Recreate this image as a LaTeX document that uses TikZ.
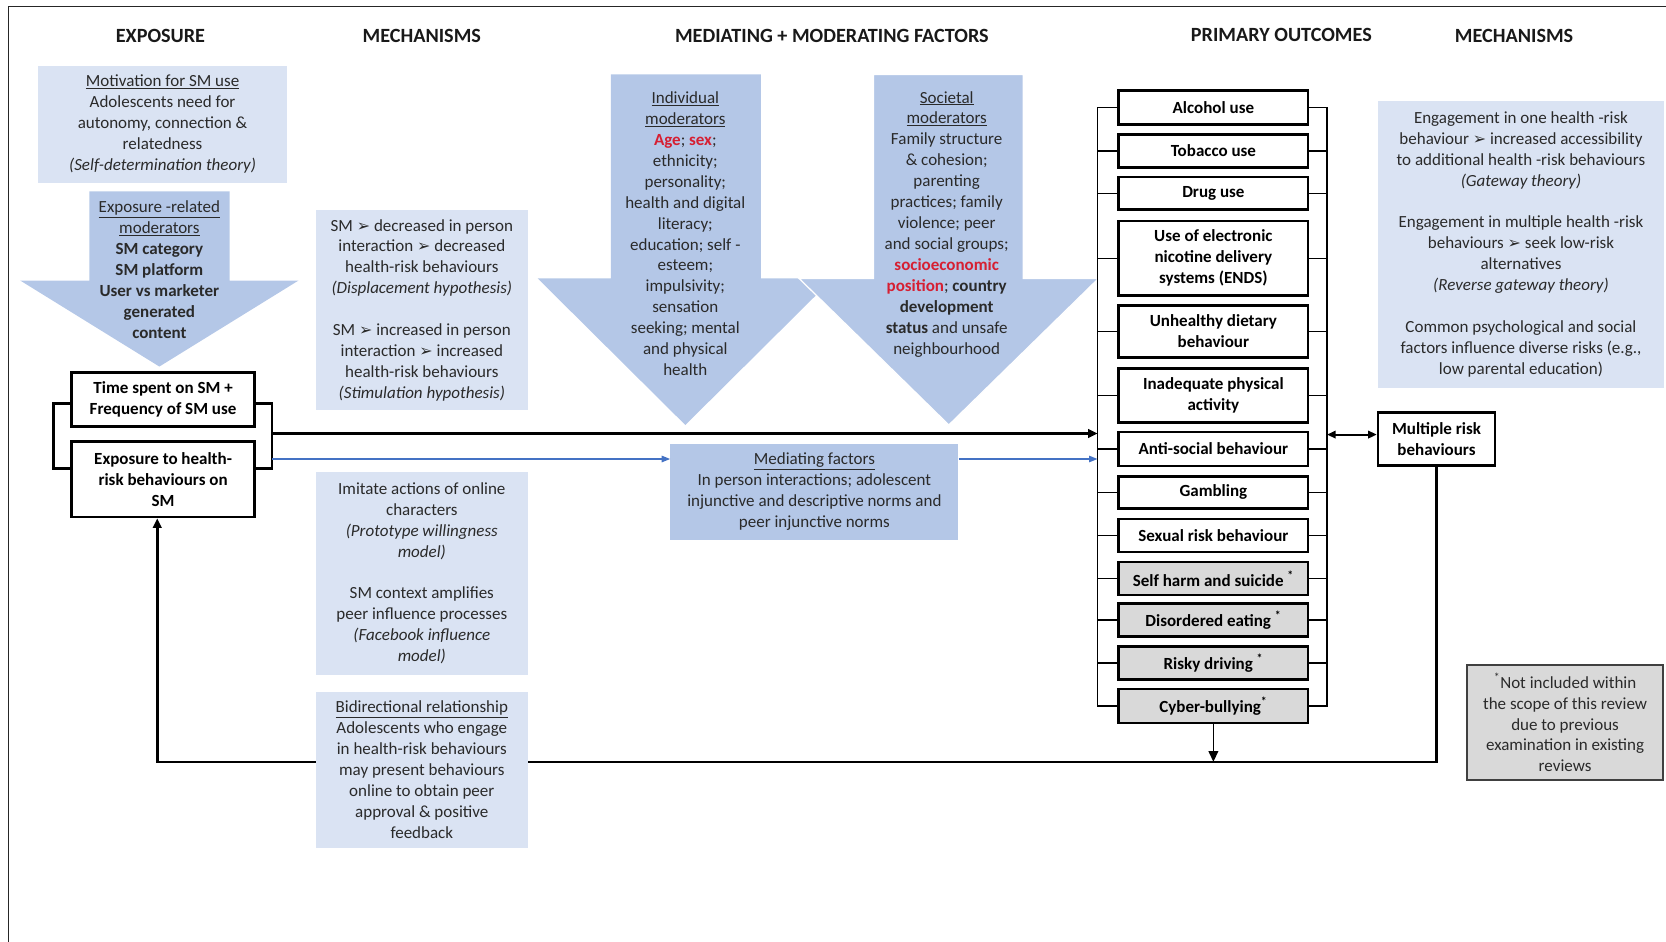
\documentclass[tikz,border=0pt]{standalone}
\usepackage{fontspec}
\setmainfont{Carlito}
\newfontfamily\dejavu{DejaVu Sans}
\usetikzlibrary{arrows.meta}
\definecolor{softfill}{HTML}{DAE3F3}
\definecolor{arrowfill}{HTML}{B4C7E7}
\definecolor{linkblue}{HTML}{4472C4}
\definecolor{redtxt}{RGB}{214,31,50}
\definecolor{txt}{HTML}{2A2A2A}
\definecolor{notegray}{HTML}{D9D9D9}
\newcommand{\myarr}{{\dejavu\fontsize{15}{15}\selectfont ➢}}
\newcommand{\rt}[1]{\textcolor{redtxt}{\textbf{#1}}}
\begin{document}
\begin{tikzpicture}[x=1pt,y=-1pt,
  every node/.style={font=\fontsize{16}{19.7}\selectfont, align=center, inner sep=0pt, text=txt},
  head/.style={font=\fontsize{19}{22}\selectfont\bfseries, text=black!90},
  softbox/.style={fill=softfill, text=txt},
  midbox/.style={fill=arrowfill, text=txt},
  outbox/.style={draw=black, line width=2.6pt, fill=white, text=black,
     font=\fontsize{16}{19.7}\selectfont\bfseries, minimum width=178pt},
  greybox/.style={outbox, fill=notegray},
  notebox/.style={draw=black!75, line width=2pt, fill=notegray, text=txt},
  framel/.style={draw=black!85, line width=1.6pt},
  bracket/.style={draw=black, line width=1.3pt},
  thickl/.style={draw=black, line width=2.6pt},
  karrow/.style={draw=black, line width=2.2pt, -{Triangle[length=9pt,width=8pt]}},
  barrow/.style={draw=linkblue, line width=1.4pt, -{Triangle[length=8pt,width=6pt]}},
  fbline/.style={draw=black, line width=2.4pt},
  dblarrow/.style={draw=black, line width=2pt, {Triangle[length=8pt,width=7pt]}-{Triangle[length=8pt,width=7pt]}}
]
\useasboundingbox (0,0) rectangle (1568,886);
% frame
\coordinate (fTL) at (8,6);
\coordinate (fTR) at (1570,6);
\coordinate (fBL) at (8,890);
\draw[framel] (fTR) -- (fTL) -- (fBL);

% headings
\node[head] (h1) at (151,34) {EXPOSURE};
\node[head] (h2) at (397,34) {MECHANISMS};
\node[head] (h3) at (783,34) {MEDIATING + MODERATING FACTORS};
\node[head] (h4) at (1206,33) {PRIMARY OUTCOMES};
\node[head] (h5) at (1425,34) {MECHANISMS};

% motivation box
\node[softbox, minimum width=234pt, minimum height=110pt] (mot) at (153,117)
 {\underline{Motivation for SM use}\\ Adolescents need for\\ autonomy, connection \&\\ relatedness\\ \textit{(Self-determination theory)}};

% exposure-related moderators arrow
\fill[arrowfill] (84,180) -- (216,180) -- (216,264) -- (281,264) -- (150,345) -- (19,264) -- (84,264) -- cycle;
\node (expmod) at (150,254)
 {\underline{Exposure -related}\\ \underline{moderators}\\ \textbf{SM category}\\ \textbf{SM platform}\\ \textbf{User vs marketer}\\ \textbf{generated}\\ \textbf{content}};

% individual moderators arrow
\fill[arrowfill] (575,70) -- (716,70) -- (716,262) -- (784,262) -- (645,400) -- (506,262) -- (575,262) -- cycle;
\node (indmod) at (645,220)
 {\underline{Individual}\\ \underline{moderators}\\ \rt{Age}; \rt{sex};\\ ethnicity;\\ personality;\\ health and digital\\ literacy;\\ education; self -\\ esteem;\\ impulsivity;\\ sensation\\ seeking; mental\\ and physical\\ health};

% societal moderators arrow
\filldraw[fill=arrowfill, draw=white, line width=1.2pt] (822,70) -- (963,70) -- (963,262) -- (1034,262) -- (893,400) -- (752,262) -- (822,262) -- cycle;
\node (socmod) at (891,211)
 {\underline{Societal}\\ \underline{moderators}\\ Family structure\\ \& cohesion;\\ parenting\\ practices; family\\ violence; peer\\ and social groups;\\ \rt{socioeconomic}\\ \rt{position}; \textbf{country}\\ \textbf{development}\\ \textbf{status} and unsafe\\ neighbourhood};

% mechanisms boxes
\node[softbox, minimum width=200pt, minimum height=188pt] (mech1) at (397,292)
 {SM \myarr\ decreased in person\\ interaction \myarr\ decreased\\ health-risk behaviours\\ \textit{(Displacement hypothesis)}\\[19.7pt]
  SM \myarr\ increased in person\\ interaction \myarr\ increased\\ health-risk behaviours\\ \textit{(Stimulation hypothesis)}};
\node[softbox, minimum width=200pt, minimum height=191pt] (mech2) at (397,539.5)
 {Imitate actions of online\\ characters\\ \textit{(Prototype willingness}\\ \textit{model)}\\[19.7pt]
  SM context amplifies\\ peer influence processes\\ \textit{(Facebook influence}\\ \textit{model)}};

% exposure boxes
\node[outbox, minimum width=172pt, minimum height=51pt] (tb) at (153.5,376)
 {Time spent on SM +\\ Frequency of SM use};
\node[outbox, minimum width=172pt, minimum height=71pt] (eb) at (153.5,451)
 {Exposure to health-\\ risk behaviours on\\ SM};

% exposure bracket
\coordinate (xt) at (50,380);
\coordinate (xb) at (50,441);
\coordinate (xt2) at (256,380);
\coordinate (xb2) at (256,441);
\draw[thickl] (tb.west |- xt) -- (xt) -- (xb) -- (eb.west |- xb);
\draw[thickl] (tb.east |- xt2) -- (xt2) -- (xb2) -- (eb.east |- xb2);

% mediating factors box
\node[midbox, minimum width=271pt, minimum height=90pt] (med) at (766.5,463)
 {\underline{Mediating factors}\\ In person interactions; adolescent\\ injunctive and descriptive norms and\\ peer injunctive norms};

% outcome boxes
\node[outbox, minimum height=32pt] (o1) at (1142,101) {Alcohol use};
\node[outbox, minimum height=31pt] (o2) at (1142,142) {Tobacco use};
\node[outbox, minimum height=31pt] (o3) at (1142,182) {Drug use};
\node[outbox, minimum height=70pt] (o4) at (1142,243) {Use of electronic\\ nicotine delivery\\ systems (ENDS)};
\node[outbox, minimum height=49pt] (o5) at (1142,312) {Unhealthy dietary\\ behaviour};
\node[outbox, minimum height=51pt] (o6) at (1142,372) {Inadequate physical\\ activity};
\node[outbox, minimum height=32pt] (o7) at (1142,422.5) {Anti-social behaviour};
\node[outbox, minimum height=30pt] (o8) at (1142,463.5) {Gambling};
\node[outbox, minimum height=31pt] (o9) at (1142,504) {Sexual risk behaviour};
\node[greybox, minimum height=31pt] (o10) at (1142,544.5) {Self harm and suicide \textsuperscript{*}};
\node[greybox, minimum height=31pt] (o11) at (1142,583.5) {Disordered eating \textsuperscript{*}};
\node[greybox, minimum height=31pt] (o12) at (1142,624) {Risky driving \textsuperscript{*}};
\node[greybox, minimum height=32pt] (o13) at (1142,664.5) {Cyber-bullying\textsuperscript{*}};

% outcome brackets
\coordinate (bL) at (1033,101);
\coordinate (bR) at (1249,101);
\draw[bracket] (o1.west) -- (o1.west -| bL) -- (o13.west -| bL) -- (o13.west);
\draw[bracket] (o1.east) -- (o1.east -| bR) -- (o13.east -| bR) -- (o13.east);
\foreach \i in {2,...,12} {
  \draw[bracket] (o\i.west) -- (o\i.west -| bL);
  \draw[bracket] (o\i.east) -- (o\i.east -| bR);
}

% right mechanisms box
\node[softbox, minimum width=269pt, minimum height=270pt] (mech3) at (1431.5,230)
 {Engagement in one health -risk\\ behaviour \myarr\ increased accessibility\\ to additional health -risk behaviours\\ \textit{(Gateway theory)}\\[19.7pt]
  Engagement in multiple health -risk\\ behaviours \myarr\ seek low-risk\\ alternatives\\ \textit{(Reverse gateway theory)}\\[19.7pt]
  Common psychological and social\\ factors influence diverse risks (e.g.,\\ low parental education)};

% multiple risk behaviours
\node[outbox, minimum width=110pt, minimum height=50pt] (mrb) at (1352,413)
 {Multiple risk\\ behaviours};

% note box
\node[notebox, minimum width=185pt, minimum height=108pt] (note) at (1473,680)
 {\textsuperscript{*}Not included within\\ the scope of this review\\ due to previous\\ examination in existing\\ reviews};

% main arrows
\coordinate (ka) at (256,408);
\draw[karrow] (ka) -- (ka -| bL);
\coordinate (ba) at (256,432);
\draw[barrow] (ba) -- (ba -| med.west);
\draw[barrow] (med.east |- ba) -- (ba -| bL);
\coordinate (da) at (1249,409);
\draw[dblarrow] (da) -- (da -| mrb.west);

% feedback loop
\coordinate (fbL) at (148,717);
\draw[fbline, -{Triangle[length=9pt,width=8pt]}] (mrb.south) -- (mrb.south |- fbL) -- (fbL) -- (fbL |- eb.south);
\draw[draw=black, line width=1.6pt, -{Triangle[length=10pt,width=9pt]}] (o13.south) -- (o13.south |- fbL);

% bidirectional box (drawn over the feedback line)
\node[softbox, minimum width=200pt, minimum height=147pt] (bidir) at (397,724.5)
 {\underline{Bidirectional relationship}\\ Adolescents who engage\\ in health-risk behaviours\\ may present behaviours\\ online to obtain peer\\ approval \& positive\\ feedback};
\end{tikzpicture}
\end{document}
